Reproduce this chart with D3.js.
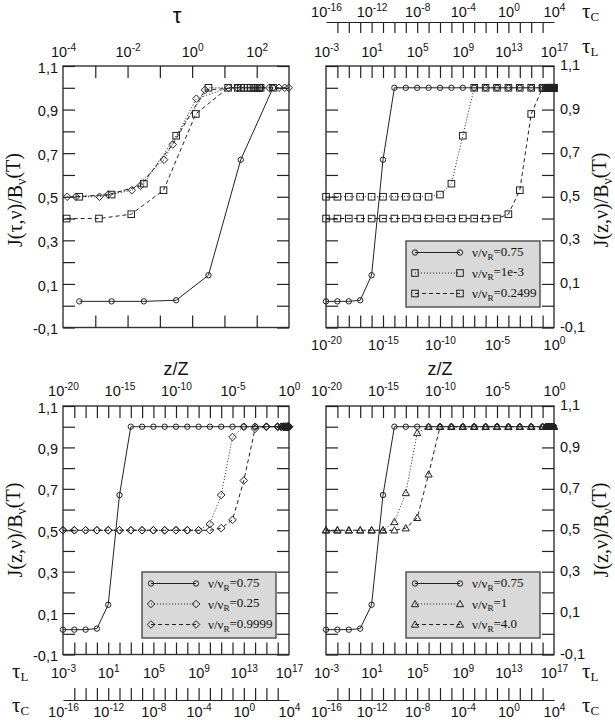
<!DOCTYPE html>
<html><head><meta charset="utf-8">
<script src="https://cdn.jsdelivr.net/npm/d3@7"></script>
<style>body{margin:0;background:#fff}svg{display:block}</style>
</head><body><svg id="c" width="615" height="720"></svg>
<script>
// ---------- data ----------
// z/Z grid shared by the three z-panels
const zVals = [1e-20,1e-19,1e-18,1e-17,1e-16,1e-15,1e-14,1e-13,1e-12,1e-11,1e-10,1e-9,1e-8,1e-7,1e-6,1e-5,1e-4,1e-3,1e-2,0.1,0.2,0.3,0.4,0.5,0.6,0.7,0.8,0.9,1.0];
const J_075  = [0.02,0.02,0.02,0.025,0.14,0.67,1,1,1,1,1,1,1,1,1,1,1,1,1,1,1,1,1,1,1,1,1,1,1];
const J_1e3  = [0.5,0.5,0.5,0.5,0.5,0.5,0.5,0.5,0.5,0.5,0.51,0.56,0.78,1,1,1,1,1,1,1,1,1,1,1,1,1,1,1,1];
const J_2499 = [0.40,0.40,0.40,0.40,0.40,0.40,0.40,0.40,0.40,0.40,0.40,0.40,0.40,0.40,0.40,0.40,0.42,0.53,0.88,1,1,1,1,1,1,1,1,1,1];
const J_025  = [0.5,0.5,0.5,0.5,0.5,0.5,0.5,0.5,0.5,0.5,0.5,0.5,0.5,0.53,0.67,0.95,1,1,1,1,1,1,1,1,1,1,1,1,1];
const J_9999 = [0.5,0.5,0.5,0.5,0.5,0.5,0.5,0.5,0.5,0.5,0.5,0.5,0.5,0.5,0.51,0.55,0.74,0.99,1,1,1,1,1,1,1,1,1,1,1];
const J_1    = [0.5,0.5,0.5,0.5,0.5,0.5,0.54,0.68,0.97,1,1,1,1,1,1,1,1,1,1,1,1,1,1,1,1,1,1,1,1];
const J_4    = [0.5,0.5,0.5,0.5,0.5,0.5,0.5,0.51,0.56,0.77,1,1,1,1,1,1,1,1,1,1,1,1,1,1,1,1,1,1,1];

// top-left panel: J versus tau
const tauCirc = [3.2e-4,3.2e-3,3.2e-2,0.32,3.2,32,320];
const tJCirc  = [0.02,0.02,0.02,0.025,0.14,0.67,1.0];
const tauSqA  = [3.2e-4,3.2e-3,3.2e-2,0.32,3.2,32,320];
const tJSqA   = [0.50,0.51,0.56,0.78,1.0,1.0,1.0];
const tauSqB  = [1.3e-4,1.3e-3,1.3e-2,0.13,1.3,13,26,40,53,66,79,92,106,119,132];
const tJSqB   = [0.40,0.40,0.42,0.53,0.88,1,1,1,1,1,1,1,1,1,1];
const tauDiaA = [1.35e-4,1.35e-3,1.35e-2,0.135,1.35,13.5,135];
const tJDiaA  = [0.50,0.50,0.53,0.67,0.95,1,1];
const tauDiaB = [2.5e-4,2.5e-3,2.5e-2,0.25,2.5,25,245,490,735,980];
const tJDiaB  = [0.50,0.51,0.55,0.74,0.99,1,1,1,1,1];

// tick values / labels
const yTickVals  = [-0.1,0,0.1,0.2,0.3,0.4,0.5,0.6,0.7,0.8,0.9,1.0,1.1];
const yLabelVals = [-0.1,0.1,0.3,0.5,0.7,0.9,1.1];
const tauLabels  = [1e-4,1e-2,1,1e2];
const tauTicks   = [1e-3,1e-2,1e-1,1,1e1,1e2];
const zLabels    = [1e-20,1e-15,1e-10,1e-5,1];
const zTicks     = [1e-19,1e-18,1e-17,1e-16,1e-15,1e-14,1e-13,1e-12,1e-11,1e-10,1e-9,1e-8,1e-7,1e-6,1e-5,1e-4,1e-3,1e-2,1e-1];
const tLLabels   = [1e-3,1e1,1e5,1e9,1e13,1e17];
const tLTicks    = [1e-2,1e-1,1,1e1,1e2,1e3,1e4,1e5,1e6,1e7,1e8,1e9,1e10,1e11,1e12,1e13,1e14,1e15,1e16];
const tCLabels   = [1e-16,1e-12,1e-8,1e-4,1,1e4];
const tCTicks    = [1e-15,1e-14,1e-13,1e-12,1e-11,1e-10,1e-9,1e-8,1e-7,1e-6,1e-5,1e-4,1e-3,1e-2,1e-1,1,1e1,1e2,1e3];

// ---------- drawing ----------
const svg = d3.select('#c');
const INK = '#222';
const SANS = "'Liberation Sans', Arial, sans-serif";
const SERIF = "'Liberation Serif', 'Times New Roman', serif";
const LBL = 14.5;

function fmtY(d){ return (d<0?'-':'') + Math.abs(d).toFixed(1).replace('.',','); }
function pow10(sel){
  sel.each(function(d){
    const e = Math.round(Math.log10(d));
    const t = d3.select(this); t.text(null);
    t.append('tspan').text('10');
    t.append('tspan').attr('dy','-0.6em').attr('font-size','0.7em').text(String(e));
  });
}
function styleAxis(g, size){
  g.attr('font-family', SANS).attr('font-size', size||13);
  g.selectAll('line').attr('stroke', INK).attr('stroke-width', 1.2);
  g.selectAll('text').attr('fill', '#111');
}
function marker(g, type, cx, cy){
  const st = {fill:'none', stroke:INK, 'stroke-width':1};
  let el;
  if(type==='circle'){ el = g.append('circle').attr('cx',cx).attr('cy',cy).attr('r',2.7); }
  else if(type==='square'){ el = g.append('rect').attr('x',cx-3.3).attr('y',cy-3.3).attr('width',6.6).attr('height',6.6); }
  else if(type==='diamond'){ const r=3.8; el = g.append('path').attr('d',`M${cx},${cy-r}L${cx+r},${cy}L${cx},${cy+r}L${cx-r},${cy}Z`); }
  else { const r=3.6; el = g.append('path').attr('d',`M${cx},${cy-r}L${cx+r},${cy+r*0.75}L${cx-r},${cy+r*0.75}Z`); }
  Object.entries(st).forEach(([k,v])=>el.attr(k,v));
}
const DASH = {solid:null, dotted:'1,2', dashed:'4,3'};

function drawSeries(g, x, y, s){
  const pts = s.xs.map((v,i)=>[v, s.ys[i]]);
  g.append('path').attr('d', d3.line().x(d=>x(d[0])).y(d=>y(d[1]))(pts))
    .attr('fill','none').attr('stroke',INK).attr('stroke-width',1)
    .attr('stroke-dasharray', DASH[s.dash]);
  pts.forEach(d=>marker(g, s.type, x(d[0]), y(d[1])));
}

function frame(g, x, y, L, R, T, B, topTicks, botTicks, xTop, xBot){
  g.append('rect').attr('x',L).attr('y',T).attr('width',R-L).attr('height',B-T)
    .attr('fill','none').attr('stroke','#333').attr('stroke-width',1.4);
  styleAxis(g.append('g').attr('transform',`translate(${L},0)`).call(d3.axisLeft(y).tickValues(yTickVals).tickSize(-12).tickFormat('')).call(a=>a.select('.domain').remove()));
  styleAxis(g.append('g').attr('transform',`translate(${R},0)`).call(d3.axisRight(y).tickValues(yTickVals).tickSize(-12).tickFormat('')).call(a=>a.select('.domain').remove()));
  styleAxis(g.append('g').attr('transform',`translate(0,${T})`).call(d3.axisTop(xTop).tickValues(topTicks).tickSize(-12).tickFormat('')).call(a=>a.select('.domain').remove()));
  styleAxis(g.append('g').attr('transform',`translate(0,${B})`).call(d3.axisBottom(xBot).tickValues(botTicks).tickSize(-12).tickFormat('')).call(a=>a.select('.domain').remove()));
}
function yLabels(g, y, X, side){
  const ax = side==='left' ? d3.axisLeft(y).tickPadding(5) : d3.axisRight(y).tickPadding(6);
  const dy = side==='left' ? 1.5 : -1;
  const a = g.append('g').attr('transform',`translate(${X},${dy})`).call(ax.tickValues(yLabelVals).tickSize(0).tickFormat(fmtY));
  a.select('.domain').remove(); styleAxis(a, LBL);
}
function xLabelsTop(g, sc, vals, baseY){
  const a = g.append('g').attr('transform',`translate(0,${baseY})`).call(d3.axisTop(sc).tickValues(vals).tickSize(0).tickPadding(0));
  a.select('.domain').remove(); styleAxis(a, LBL);
  a.selectAll('text').attr('y',0).attr('dy',null).call(pow10);
}
function xLabelsBottom(g, sc, vals, baseY){
  const a = g.append('g').attr('transform',`translate(0,${baseY})`).call(d3.axisBottom(sc).tickSize(0).tickValues(vals).tickPadding(0));
  a.select('.domain').remove(); styleAxis(a, LBL);
  a.selectAll('text').attr('y',0).attr('dy',null).call(pow10);
}
function tauName(x, yb, sub){
  const t = svg.append('text').attr('x',x).attr('y',yb).attr('font-family',SERIF).attr('font-size',21).attr('fill','#111');
  t.append('tspan').text('τ');
  t.append('tspan').attr('dy','0.22em').attr('font-size','0.62em').text(sub);
}
function yTitle(x, cy, v){
  const t = svg.append('text').attr('transform',`translate(${x},${cy}) rotate(-90)`).attr('text-anchor','middle')
    .attr('font-family',SERIF).attr('font-size',20).attr('fill','#111');
  t.append('tspan').text(`J(${v},ν)/B`);
  t.append('tspan').attr('dy','0.3em').attr('font-size','0.7em').text('ν');
  t.append('tspan').attr('dy','-0.3em').text('(T)');
}
function legend(bx, by, entries){
  const g = svg.append('g');
  g.append('rect').attr('x',bx).attr('y',by).attr('width',134).attr('height',66)
    .attr('fill','#d9d9d9').attr('stroke','#555').attr('stroke-width',1.5);
  entries.forEach((e,i)=>{
    const yy = by + 11.5 + i*20.5;
    g.append('line').attr('x1',bx+9).attr('x2',bx+54).attr('y1',yy).attr('y2',yy)
      .attr('stroke',INK).attr('stroke-width',1).attr('stroke-dasharray',DASH[e.dash]);
    marker(g, e.type, bx+9, yy); marker(g, e.type, bx+54, yy);
    const t = g.append('text').attr('x',bx+66).attr('y',yy+4.5).attr('font-family',SERIF).attr('font-size',13).attr('fill','#111');
    t.append('tspan').text('ν/ν');
    t.append('tspan').attr('dy','0.3em').attr('font-size','0.7em').text('R');
    t.append('tspan').attr('dy','-0.3em').text('=' + e.label);
  });
}

// ---- Top-left ----
{
  const L=63,R=289,T=66,B=327.5;
  const x = d3.scaleLog().domain([1e-4,1e3]).range([L,R]);
  const y = d3.scaleLinear().domain([-0.1,1.1]).range([B,T]);
  const g = svg.append('g');
  frame(g,x,y,L,R,T,B,tauTicks,tauTicks,x,x);
  [{xs:tauSqB,ys:tJSqB,type:'square',dash:'dashed'},
   {xs:tauSqA,ys:tJSqA,type:'square',dash:'dotted'},
   {xs:tauDiaA,ys:tJDiaA,type:'diamond',dash:'dotted'},
   {xs:tauDiaB,ys:tJDiaB,type:'diamond',dash:'dashed'},
   {xs:tauCirc,ys:tJCirc,type:'circle',dash:'solid'}].forEach(s=>drawSeries(g,x,y,s));
  yLabels(g,y,L,'left');
  xLabelsTop(g,x,tauLabels,57);
  svg.append('text').attr('x',177).attr('y',23).attr('text-anchor','middle').attr('font-family',SANS).attr('font-size',22).attr('fill','#111').text('τ');
  yTitle(22,200,'τ');
}
// ---- Top-right ----
{
  const L=326,R=554,T=66,B=327.5;
  const x = d3.scaleLog().domain([1e-20,1]).range([L,R]);
  const xL = d3.scaleLog().domain([1e-3,1e17]).range([L,R]);
  const xC = d3.scaleLog().domain([1e-16,1e4]).range([L,R]);
  const y = d3.scaleLinear().domain([-0.1,1.1]).range([B,T]);
  const g = svg.append('g');
  frame(g,x,y,L,R,T,B,tLTicks,zTicks,xL,x);
  [{ys:J_075,type:'circle',dash:'solid'},
   {ys:J_1e3,type:'square',dash:'dotted'},
   {ys:J_2499,type:'square',dash:'dashed'}].forEach(s=>drawSeries(g,x,y,{xs:zVals,...s}));
  yLabels(g,y,R,'right');
  xLabelsTop(g,xL,tLLabels,57);
  xLabelsBottom(g,x,zLabels,350);
  const c = g.append('g').attr('transform','translate(0,22)').call(d3.axisBottom(xC).tickValues(tCTicks).tickSize(11).tickSizeOuter(0).tickFormat(''));
  styleAxis(c); c.select('.domain').attr('stroke',INK).attr('stroke-width',1.2);
  xLabelsTop(g,xC,tCLabels,17);
  tauName(582,18,'C'); tauName(582,53,'L');
  yTitle(608,200,'z');
  legend(406,241,[{type:'circle',dash:'solid',label:'0.75'},{type:'square',dash:'dotted',label:'1e-3'},{type:'square',dash:'dashed',label:'0.2499'}]);
}
// ---- Bottom panels ----
function bottomPanel(L,R,series,leg,side){
  const T=406,B=654.5;
  const x = d3.scaleLog().domain([1e-20,1]).range([L,R]);
  const xL = d3.scaleLog().domain([1e-3,1e17]).range([L,R]);
  const xC = d3.scaleLog().domain([1e-16,1e4]).range([L,R]);
  const y = d3.scaleLinear().domain([-0.1,1.1]).range([B,T]);
  const g = svg.append('g');
  frame(g,x,y,L,R,T,B,zTicks,tLTicks,x,xL);
  series.forEach(s=>drawSeries(g,x,y,{xs:zVals,...s}));
  yLabels(g,y, side==='left'?L:R, side);
  xLabelsTop(g,x,zLabels,396);
  xLabelsBottom(g,xL,tLLabels,678);
  const c = g.append('g').attr('transform','translate(0,700)').call(d3.axisTop(xC).tickValues(tCTicks).tickSize(12).tickSizeOuter(0).tickFormat(''));
  styleAxis(c); c.select('.domain').attr('stroke',INK).attr('stroke-width',1.2);
  xLabelsBottom(g,xC,tCLabels,717);
  svg.append('text').attr('x',(L+R)/2).attr('y',375).attr('text-anchor','middle').attr('font-family',SANS).attr('font-size',18).attr('fill','#111').text('z/Z');
  legend(leg,572,series.map(s=>({type:s.type,dash:s.dash,label:s.label})));
}
bottomPanel(63,289,[
  {ys:J_075,type:'circle',dash:'solid',label:'0.75'},
  {ys:J_025,type:'diamond',dash:'dotted',label:'0.25'},
  {ys:J_9999,type:'diamond',dash:'dashed',label:'0.9999'}],142,'left');
bottomPanel(326,554,[
  {ys:J_075,type:'circle',dash:'solid',label:'0.75'},
  {ys:J_1,type:'triangle',dash:'dotted',label:'1'},
  {ys:J_4,type:'triangle',dash:'dashed',label:'4.0'}],406,'right');
tauName(12,678,'L'); tauName(12,712,'C');
tauName(582,678,'L'); tauName(582,712,'C');
yTitle(22,530,'z');
yTitle(608,530,'z');
</script></body></html>
